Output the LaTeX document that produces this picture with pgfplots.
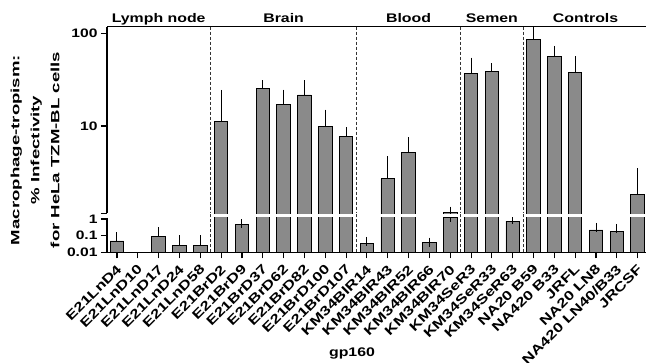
\documentclass[border=0pt]{standalone}
\usepackage{fontspec}
\setmainfont{Liberation Sans}
\newfontfamily\hfont{Liberation Sans}[FakeStretch=1.27]
\newfontfamily\vfont{Liberation Sans}[FakeStretch=1.55]
\newfontfamily\cfont{Liberation Sans}[FakeStretch=1.3]
\usepackage{pgfplots}
\usepackage{pgfplotstable}
\pgfplotsset{compat=1.18}
\definecolor{barfill}{RGB}{138,138,138}

\pgfplotstableread{
x y e
0 0.048 0.039
2 0.095 0.075
3 0.026 0.029
4 0.026 0.029
5 11.3 10.7
6 0.5 0.01
7 25.7 2.0
8 17.1 5.0
9 21.6 6.1
10 9.8 3.6
11 7.7 1.0
12 0.032 0.014
13 2.68 1.55
14 5.2 1.58
15 0.038 0.003
16 1.17 0.03
17 37.0 12.0
18 38.9 3.4
19 0.75 0.2
20 86.9 21.0
21 56.9 8.7
22 37.6 13.0
23 0.22 0.10
24 0.17 0.10
25 1.82 1.29
}\data

\begin{document}
\begin{tikzpicture}
\path[use as bounding box] (0,0) rectangle (646pt,-362pt);
% upper segment (bars start at 1, below the segment's floor)
\begin{axis}[
  scale only axis, width=539pt, height=186.6pt,
  at={(107pt,-213.3pt)}, anchor=south west,
  xmin=-0.48, xmax=25.4,
  ymode=log,
  ymin=1.14, ymax=118,
  ybar, bar width=13.5pt,
  tick align=outside, major tick length=6pt, minor tick length=0pt,
  clip mode=individual,
  axis line style={line width=1.1pt, black},
  tick style={line width=1.1pt, black},
  yticklabel style={font=\hfont\bfseries\fontsize{12.3}{14}\selectfont},
  axis x line*=top, axis y line*=left,
  xtick=\empty,
  ytick={1.14,10,100}, yticklabels={,10,100},
]
\addplot[fill=barfill, draw=black, line width=0.9pt,
  error bars/.cd, y dir=plus, y explicit,
  error mark=-, error mark options={mark size=4.5pt, line width=1pt, black},
  error bar style={line width=1pt, black}]
  table[x=x, y=y, y error plus=e] {\data};
\draw[black!80, line width=0.8pt, dash pattern=on 3pt off 2pt] (axis cs:4.5,118) -- (axis cs:4.5,1.14);
\draw[black!80, line width=0.8pt, dash pattern=on 3pt off 2pt] (axis cs:11.5,118) -- (axis cs:11.5,1.14);
\draw[black!80, line width=0.8pt, dash pattern=on 3pt off 2pt] (axis cs:16.5,118) -- (axis cs:16.5,1.14);
\draw[black!80, line width=0.8pt, dash pattern=on 3pt off 2pt] (axis cs:19.5,118) -- (axis cs:19.5,1.14);
\node[anchor=base, yshift=3.8pt, font=\hfont\bfseries\fontsize{12.5}{14}\selectfont] at (axis cs:2,118) {Lymph node};
\node[anchor=base, yshift=3.8pt, font=\hfont\bfseries\fontsize{12.5}{14}\selectfont] at (axis cs:8,118) {Brain};
\node[anchor=base, yshift=3.8pt, font=\hfont\bfseries\fontsize{12.5}{14}\selectfont] at (axis cs:14,118) {Blood};
\node[anchor=base, yshift=3.8pt, font=\hfont\bfseries\fontsize{12.5}{14}\selectfont] at (axis cs:18,118) {Semen};
\node[anchor=base, yshift=3.8pt, font=\hfont\bfseries\fontsize{12.5}{14}\selectfont] at (axis cs:22.5,118) {Controls};
\end{axis}
% lower segment
\begin{axis}[
  scale only axis, width=539pt, height=34.6pt,
  at={(107pt,-252.3pt)}, anchor=south west,
  xmin=-0.48, xmax=25.4,
  ymode=log, log origin=infty,
  ymin=0.01, ymax=1.2,
  ybar, bar width=13.5pt,
  tick align=outside, major tick length=6pt, minor tick length=0pt,
  clip mode=individual,
  axis line style={line width=1.1pt, black},
  tick style={line width=1.1pt, black},
  yticklabel style={font=\hfont\bfseries\fontsize{12.3}{14}\selectfont},
  axis x line*=bottom, axis y line*=left,
  xtick={0,...,25},
  xticklabels={E21LnD4,E21LnD10,E21LnD17,E21LnD24,E21LnD58,E21BrD2,E21BrD9,E21BrD37,E21BrD62,E21BrD82,E21BrD100,E21BrD107,KM34BlR14,KM34BlR43,KM34BlR52,KM34BlR66,KM34BlR70,KM34SeR3,KM34SeR33,KM34SeR63,NA20 B59,NA420 B33,JRFL,NA20 LN8,NA420 LN40/B33,JRCSF},
  xticklabel style={xshift=3pt, yshift=-8pt, rotate=45, anchor=east, font=\cfont\bfseries\fontsize{13}{14}\selectfont, inner sep=1pt},
  ytick={0.01,0.1,1}, yticklabels={0.01,0.1,1},
]
\addplot[fill=barfill, draw=black, line width=0.9pt,
  error bars/.cd, y dir=plus, y explicit,
  error mark=-, error mark options={mark size=4.5pt, line width=1pt, black},
  error bar style={line width=1pt, black}]
  table[x=x, y=y, y error plus=e] {\data};
\draw[black!80, line width=0.8pt, dash pattern=on 3pt off 2pt] (axis cs:4.5,0.01) -- (axis cs:4.5,2.3);
\draw[black!80, line width=0.8pt, dash pattern=on 3pt off 2pt] (axis cs:11.5,0.01) -- (axis cs:11.5,2.3);
\draw[black!80, line width=0.8pt, dash pattern=on 3pt off 2pt] (axis cs:16.5,0.01) -- (axis cs:16.5,2.3);
\draw[black!80, line width=0.8pt, dash pattern=on 3pt off 2pt] (axis cs:19.5,0.01) -- (axis cs:19.5,2.3);
\end{axis}
\node[anchor=base, font=\hfont\bfseries\fontsize{12.5}{14}\selectfont] at (352pt,-356pt) {gp160};
\node[rotate=90, align=center, font=\vfont\bfseries\fontsize{12}{20}\selectfont] at (35pt,-150pt) {Macrophage-tropism:\\\% Infectivity\\for HeLa TZM-BL cells};
\end{tikzpicture}
\end{document}
